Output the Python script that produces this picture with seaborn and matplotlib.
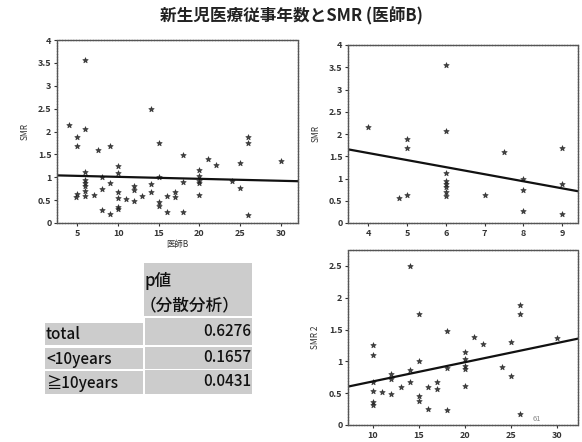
import matplotlib
matplotlib.use("Agg")
import matplotlib.pyplot as plt
from matplotlib.patches import Rectangle
import seaborn as sns
import pandas as pd

# ---- data ----
lt10_years = [4, 4.8, 5, 5, 5, 6, 6, 6, 6, 6, 6, 6, 6, 7, 7.5, 8, 8, 8, 9, 9, 9]
lt10_smr = [2.15, 0.56, 1.88, 1.68, 0.64, 3.56, 2.06, 1.12, 0.95, 0.88, 0.80, 0.70,
            0.60, 0.62, 1.60, 1.00, 0.74, 0.28, 1.68, 0.87, 0.20]

ge10_years = [10, 10, 10, 10, 10, 10, 11, 12, 12, 12, 13, 14, 14, 14, 15, 15, 15, 15,
              16, 16, 17, 17, 18, 18, 18, 20, 20, 20, 20, 20, 21, 22, 24, 25, 25,
              26, 26, 26, 30]
ge10_smr = [1.25, 1.10, 0.67, 0.54, 0.36, 0.31, 0.52, 0.80, 0.72, 0.49, 0.60, 2.50,
            0.86, 0.68, 1.75, 1.00, 0.46, 0.37, 0.59, 0.25, 0.67, 0.56, 1.48, 0.89,
            0.23, 1.15, 1.03, 0.92, 0.88, 0.61, 1.39, 1.27, 0.91, 1.31, 0.77, 1.89,
            1.75, 0.18, 1.36]

table_rows = ["total", "<10years", "≧10years"]
p_values = ["0.6276", "0.1657", "0.0431"]

title = "新生児医療従事年数とSMR (医師B)"

sns.set_style("white")
plt.rcParams['font.family'] = ['Noto Sans CJK JP', 'DejaVu Sans']

W, H = 582, 442
fig = plt.figure(figsize=(W / 100, H / 100), dpi=100)


def ax_at(l, t, r, b):
    return fig.add_axes([l / W, 1 - b / H, (r - l) / W, (b - t) / H])


df_all = pd.DataFrame({"x": lt10_years + ge10_years, "y": lt10_smr + ge10_smr})
df_lt = pd.DataFrame({"x": lt10_years, "y": lt10_smr})
df_ge = pd.DataFrame({"x": ge10_years, "y": ge10_smr})

panels = [
    (ax_at(57, 40, 298, 223), df_all, (2.5, 32.1), (0, 4.0), [5, 10, 15, 20, 25, 30],
     [0, 0.5, 1, 1.5, 2, 2.5, 3, 3.5, 4], "SMR", "医師B"),
    (ax_at(348, 45, 578, 223), df_lt, (3.48, 9.41), (0, 4.0), [4, 5, 6, 7, 8, 9],
     [0, 0.5, 1, 1.5, 2, 2.5, 3, 3.5, 4], "SMR", ""),
    (ax_at(348, 250, 578, 425), df_ge, (7.28, 32.3), (0, 2.75), [10, 15, 20, 25, 30],
     [0, 0.5, 1, 1.5, 2, 2.5], "SMR 2", ""),
]

for ax, d, xl, yl, xt, yt, ylab, xlab in panels:
    ax.set_xlim(*xl)
    ax.set_ylim(*yl)
    sns.regplot(data=d, x="x", y="y", ax=ax, ci=None, truncate=False,
                marker="*", color="#1a1a1a",
                scatter_kws={"s": 16, "linewidths": 0.6, "edgecolors": "#222222"},
                line_kws={"color": "#111111", "lw": 1.6})
    ax.set_xlim(*xl)
    ax.set_ylim(*yl)
    ax.set_xticks(xt)
    ax.set_yticks(yt)
    ax.set_xticklabels([str(v) for v in xt])
    ax.set_yticklabels([("%g" % v) for v in yt])
    ax.tick_params(axis="both", labelsize=6.5, length=2.5, width=0.8,
                   colors="#333333", direction="out", pad=1.5)
    ax.tick_params(bottom=True, left=True)
    for lbl in ax.get_xticklabels() + ax.get_yticklabels():
        lbl.set_fontweight("bold")
    ax.set_ylabel(ylab, fontsize=6, color="#333333", labelpad=6)
    ax.set_xlabel(xlab, fontsize=6, color="#333333", labelpad=2)
    for s in ax.spines.values():
        s.set_color("#555555")
        s.set_linewidth(1.0)
        s.set_linestyle((0, (1.5, 0.5)))

panels[2][0].text(27.8, 0.07, "61", fontsize=5.5, color="#888888", ha="center")

fig.text(0.5, 1 - 16 / H, title, ha="center", va="center",
         fontsize=12, fontweight="bold", color="#222222")

# ---- table ----
cell_c = "#cccccc"


def rect(x0, y0, x1, y1):
    fig.add_artist(Rectangle((x0 / W, 1 - y1 / H), (x1 - x0) / W, (y1 - y0) / H,
                             transform=fig.transFigure, facecolor=cell_c,
                             edgecolor="none", zorder=0))


rect(144, 263, 252, 316)
fig.text(145 / W, 1 - 281 / H, "p値", fontsize=12, va="center", ha="left",
         color="#111111", fontweight="medium")
fig.text(140 / W, 1 - 305 / H, "（分散分析）", fontsize=12, va="center", ha="left",
         color="#111111", fontweight="medium")

row_tops = [318, 347, 370]
row_bots = [345, 369, 394]
lab_tops = [323, 348, 371]
for i, (lab, pv) in enumerate(zip(table_rows, p_values)):
    rect(45, lab_tops[i], 143, row_bots[i])
    rect(145, row_tops[i], 252, row_bots[i])
    yc = (lab_tops[i] + row_bots[i]) / 2 + 0.5
    fig.text(46 / W, 1 - yc / H, lab, fontsize=11, va="center", ha="left",
             color="#111111", fontweight="medium")
    yv = (row_tops[i] + row_bots[i]) / 2 - 1
    if i == 0:
        yv = 332
    fig.text(251 / W, 1 - yv / H, pv, fontsize=11, va="center", ha="right",
             color="#111111", fontweight="medium")

fig.savefig("out.png", dpi=100, facecolor="white")
